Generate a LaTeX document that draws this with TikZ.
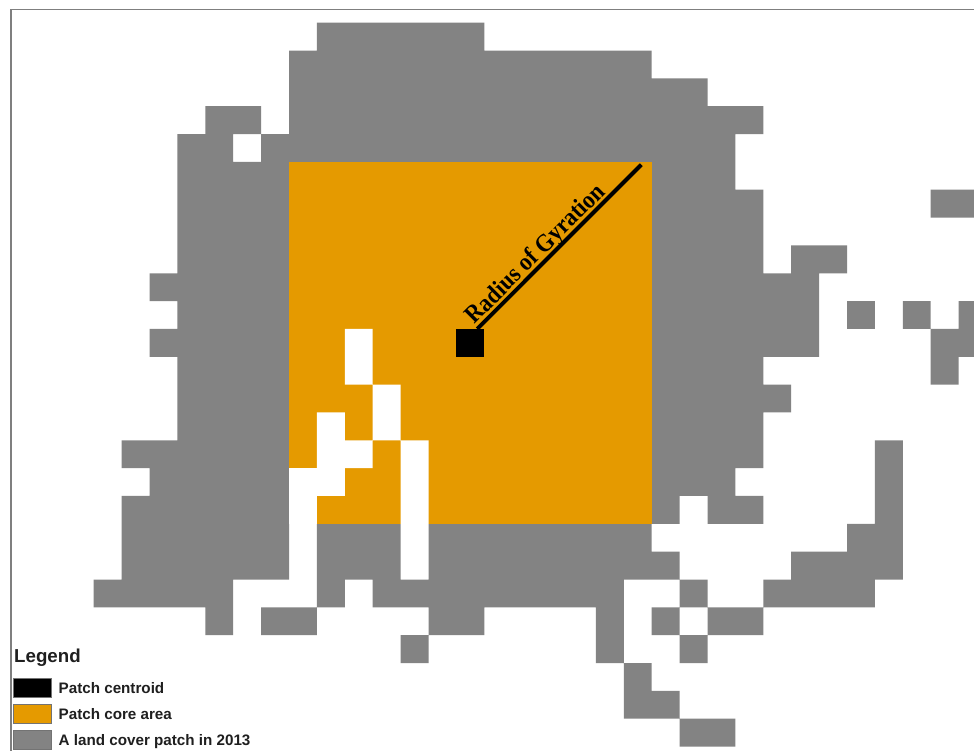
\documentclass[tikz,border=0pt]{standalone}
\usepackage{fontspec}
\usepackage{graphicx}
\setmainfont{Liberation Sans}
\newfontfamily\serifb{Liberation Serif}
\definecolor{patchgray}{HTML}{838383}
\definecolor{coreorange}{HTML}{E59A00}
\definecolor{framegray}{HTML}{7F7F7F}
\tikzset{
  patchfill/.style={fill=patchgray},
  corefill/.style={fill=coreorange},
  gapfill/.style={fill=white},
  swatch/.style={draw=black!55,fill=#1,line width=1pt,minimum width=38pt,minimum height=19pt,inner sep=0,outer sep=0,anchor=north west},
  legtext/.style={font=\bfseries\fontsize{15.2}{17}\selectfont,text=black!88,inner sep=0,anchor=base west},
  rglabel/.style={font=\serifb\bfseries\fontsize{25}{27}\selectfont,inner sep=0,rotate=45,anchor=base,text=black},
}
\newcommand{\gx}[1]{10+27.9*#1}
\newcommand{\gy}[1]{22.7+27.84*#1}
\begin{document}
\begin{tikzpicture}[x=1pt,y=-1pt]
\useasboundingbox (0,0) rectangle (974,751);
\fill[white] (0,0) rectangle (974,751);
% land cover patch
\fill[patchfill] \foreach \r/\a/\b in {
 0/11/17,
 1/10/23,
 2/10/25,
 3/7/9,3/10/27,
 4/6/8,4/9/26,
 5/6/10,5/23/26,
 6/6/10,6/23/27,6/33/34.55,
 7/6/10,7/23/27,
 8/6/10,8/23/27,8/28/30,
 9/5/10,9/23/29,
 10/6/10,10/23/29,10/30/31,10/32/33,10/34/34.55,
 11/5/10,11/23/29,11/33/34.55,
 12/6/10,12/23/27,12/33/34,
 13/6/10,13/23/28,
 14/6/10,14/23/27,
 15/4/10,15/23/27,15/31/32,
 16/5/10,16/23/26,16/31/32,
 17/4/10,17/23/24,17/25/27,17/31/32,
 18/4/10,18/11/14,18/15/23,18/30/32,
 19/4/10,19/11/14,19/15/24,19/28/32,
 20/3/8,20/11/12,20/13/22,20/24/25,20/27/31,
 21/7/8,21/9/11,21/15/17,21/21/22,21/23/24,21/25/27,
 22/14/15,22/21/22,22/24/25,
 23/22/23,
 24/22/24,
 25/24/26
 } { ({\gx{\a}},{\gy{\r}}) rectangle ({\gx{\b}},{\gy{(\r+1)}}) };
% core area
\fill[corefill] ({\gx{10}},{\gy{5}}) rectangle ({\gx{23}},{\gy{18}});
\fill[gapfill] \foreach \r/\a/\b in {
 11/12/13,12/12/13,
 13/13/14,14/13/14,
 14/11/12,
 15/11/13,15/14/15,
 16/10/12,16/14/15,
 17/10/11,17/14/15
 } { ({\gx{\a}},{\gy{\r}}) rectangle ({\gx{\b}},{\gy{(\r+1)}}) };
% frame
\draw[framegray,line width=1.6pt] (11,751) -- (11,9.5) -- (974,9.5);
% centroid and radius
\node[fill=black,minimum width=27.9pt,minimum height=27.9pt,inner sep=0,outer sep=0] (centroid) at (470.3,342.8) {};
\coordinate (rgstart) at ([xshift=-7pt]centroid.north east);
\coordinate (rgend) at (641.3,164.7);
\node[rglabel] (rglab) at (540.5,259) {\scalebox{0.905}[1]{Radius of Gyration}};
\draw[black,line width=4pt] (rgstart) -- (rgend);
% legend
\node[font=\bfseries\fontsize{18.7}{20}\selectfont,text=black!88,inner sep=0,anchor=base west] (legtitle) at (14,662.5) {Legend};
\node[swatch=black] (s1) at (13.5,678.5) {};
\node[swatch=coreorange] (s2) at (13.5,704.5) {};
\node[swatch=patchgray] (s3) at (13.5,730.5) {};
\node[legtext] (t1) at (58.5,693.5) {Patch centroid};
\node[legtext] (t2) at (58.5,719.5) {Patch core area};
\node[legtext] (t3) at (58.5,745.5) {A land cover patch in 2013};
\end{tikzpicture}
\end{document}
